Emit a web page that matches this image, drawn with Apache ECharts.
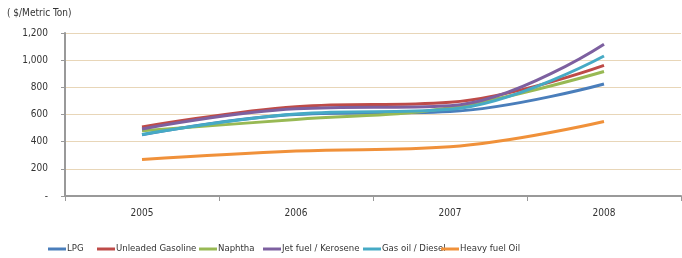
<!DOCTYPE html>
<html>
<head>
<meta charset="utf-8">
<script src="https://cdn.jsdelivr.net/npm/echarts@6/dist/echarts.min.js"></script>
<style>
html,body{margin:0;padding:0;background:#fff;}
#chart{width:682px;height:258px;}
</style>
</head>
<body>
<div id="chart"></div>
<script>
var years = ['2005', '2006', '2007', '2008'];
var names = ['LPG', 'Unleaded Gasoline', 'Naphtha', 'Jet fuel / Kerosene', 'Gas oil / Diesel', 'Heavy fuel Oil'];
var lpg = [450, 600, 622, 825];
var gasoline = [508, 657, 690, 962];
var naphtha = [480, 564, 650, 917];
var jetFuel = [493, 642, 665, 1118];
var gasOil = [453, 603, 638, 1031];
var heavyOil = [268, 331, 362, 548];
var colors = ['#4a7ebb', '#be4b48', '#98b954', '#7d60a0', '#46aac5', '#f0913a'];
var legendLeft = [48, 97, 199, 263, 363, 441];

var font = '"DejaVu Sans Condensed", "Roboto", sans-serif';
var chart = echarts.init(document.getElementById('chart'));

var allData = [lpg, gasoline, naphtha, jetFuel, gasOil, heavyOil];
var series = [];
var legends = [];
for (var i = 0; i < names.length; i++) {
	series.push({
		name: names[i],
		type: 'line',
		data: allData[i],
		smooth: 0.4,
		showSymbol: false,
		symbol: 'none',
		lineStyle: {width: 3, color: colors[i]},
		itemStyle: {color: colors[i]}
	});
	legends.push({
		data: [names[i]],
		left: legendLeft[i],
		top: 244,
		icon: 'rect',
		itemWidth: 18,
		itemHeight: 3,
		itemGap: 2,
		padding: 0,
		textStyle: {fontFamily: font, fontSize: 9.5, color: '#333', padding: [0, 0, 0, -4]}
	});
}

chart.setOption({
	animation: false,
	title: {
		text: '( $/Metric Ton)',
		left: 2,
		top: 3,
		textStyle: {fontFamily: font, fontSize: 10, fontWeight: 'normal', color: '#333'}
	},
	legend: legends,
	grid: {left: 65, right: 1, top: 33, bottom: 62},
	xAxis: {
		type: 'category',
		data: years,
		boundaryGap: true,
		axisLine: {lineStyle: {color: '#999', width: 2}},
		axisTick: {show: true, length: 5, lineStyle: {color: '#999'}},
		axisLabel: {fontFamily: font, fontSize: 10, color: '#333', margin: 12}
	},
	yAxis: {
		type: 'value',
		min: 0,
		max: 1200,
		interval: 200,
		axisLine: {show: true, lineStyle: {color: '#999', width: 2}},
		axisTick: {show: true, length: 4, lineStyle: {color: '#999'}},
		axisLabel: {
			fontFamily: font, fontSize: 10, color: '#333', margin: 17,
			formatter: function (v) { return v === 0 ? '-' : v.toLocaleString('en-US'); }
		},
		splitLine: {lineStyle: {color: '#e8d6b8', width: 1}}
	},
	series: series
});
</script>
</body>
</html>
